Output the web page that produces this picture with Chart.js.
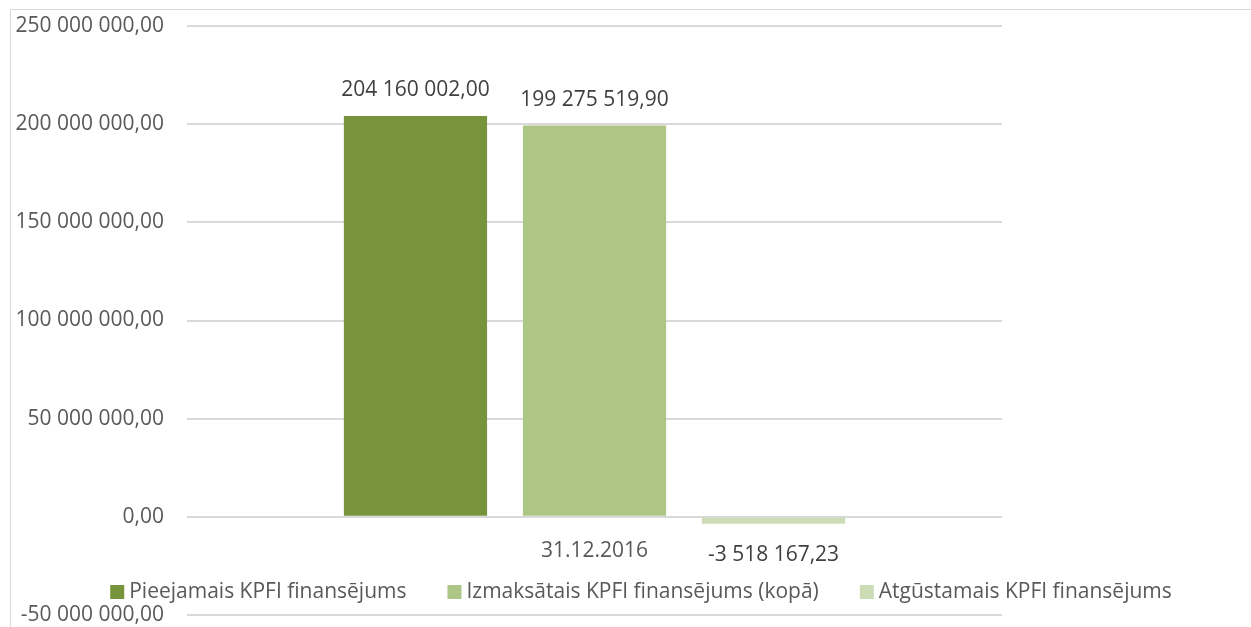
<!DOCTYPE html>
<html>
<head>
<meta charset="utf-8">
<script src="https://cdn.jsdelivr.net/npm/chart.js@4"></script>
<style>
  html, body { margin: 0; padding: 0; background: #fff; overflow: hidden; }
  #wrap { position: relative; width: 1251px; height: 627px; }
  #frame { position: absolute; left: 10px; top: 9px; width: 1400px; height: 800px; border: 1px solid #D9D9D9; }
  canvas { position: absolute; left: 0; top: 0; }
</style>
</head>
<body>
<div id="wrap">
  <div id="frame"></div>
  <canvas id="myChart" width="1251" height="627"></canvas>
</div>
<script>
const categories = ['31.12.2016'];
const seriesNames = ['Pieejamais KPFI finansējums', 'Izmaksātais KPFI finansējums (kopā)', 'Atgūstamais KPFI finansējums'];
const pieejamais = [204160002.00];
const izmaksatais = [199275519.90];
const atgustamais = [-3518167.23];
const seriesColors = ['#77933C', '#ADC686', '#CCDCB6'];
const yMin = -50000000;
const yMax = 250000000;
const yStep = 50000000;

const FONT = '"Open Sans", sans-serif';

// 204 160 002,00
function fmt(v) {
    const neg = v < 0;
    const parts = Math.abs(v).toFixed(2).split('.');
    const int = parts[0].replace(/\B(?=(\d{3})+(?!\d))/g, ' ');
    return (neg ? '-' : '') + int + ',' + parts[1];
}

// vērtību etiķetes virs / zem stabiņiem
const valueLabels = {
    id: 'valueLabels',
    afterDatasetsDraw(chart) {
        const ctx = chart.ctx;
        ctx.save();
        ctx.font = '21px ' + FONT;
        ctx.fillStyle = '#404040';
        ctx.textAlign = 'center';
        ctx.textBaseline = 'middle';
        chart.data.datasets.forEach((ds, i) => {
            chart.getDatasetMeta(i).data.forEach((bar, j) => {
                const v = ds.data[j];
                const y = v >= 0 ? bar.y - 26 : bar.y + 31;
                ctx.fillText(fmt(v), bar.x, y);
            });
        });
        ctx.restore();
    }
};

// leģenda pāri zīmēšanas laukumam, kā Excel
const overlayLegend = {
    id: 'overlayLegend',
    afterDraw(chart) {
        const ctx = chart.ctx;
        const box = 14, boxGap = 5, itemGap = 41;
        ctx.save();
        ctx.font = '21px ' + FONT;
        ctx.textBaseline = 'middle';
        ctx.textAlign = 'left';
        const items = chart.data.datasets.map(ds => ({ text: ds.label, color: ds.backgroundColor, w: ctx.measureText(ds.label).width }));
        const total = items.reduce((s, it) => s + box + boxGap + it.w, 0) + itemGap * (items.length - 1);
        let x = 641 - total / 2;
        const y = chart.chartArea.bottom - 23;
        items.forEach(it => {
            ctx.fillStyle = it.color;
            ctx.fillRect(x, y - box / 2, box, box);
            x += box + boxGap;
            ctx.fillStyle = '#595959';
            ctx.fillText(it.text, x, y);
            x += it.w + itemGap;
        });
        ctx.restore();
    }
};

const datasets = [pieejamais, izmaksatais, atgustamais].map((d, i) => ({
    label: seriesNames[i],
    data: d,
    backgroundColor: seriesColors[i],
    categoryPercentage: 0.659,
    barPercentage: 0.8
}));

new Chart(document.getElementById('myChart'), {
    type: 'bar',
    data: { labels: categories, datasets: datasets },
    options: {
        responsive: false,
        animation: false,
        layout: { padding: { left: 0, right: 249, top: 26, bottom: 12 } },
        plugins: {
            legend: { display: false },
            tooltip: { enabled: false }
        },
        scales: {
            x: {
                position: { y: 0 },
                grid: { display: false },
                border: { display: false },
                ticks: { color: '#595959', font: { family: FONT, size: 21 }, padding: 14 }
            },
            y: {
                min: yMin,
                max: yMax,
                afterFit(scale) { scale.width = 187; },
                grid: { color: '#D9D9D9', lineWidth: 2, drawTicks: true, tickLength: 23, tickColor: 'rgba(0,0,0,0)' },
                border: { display: false },
                ticks: {
                    stepSize: yStep,
                    padding: 0,
                    color: '#595959',
                    font: { family: FONT, size: 21, lineHeight: 1.1 },
                    callback: v => fmt(v)
                }
            }
        }
    },
    plugins: [valueLabels, overlayLegend]
});
</script>
</body>
</html>
